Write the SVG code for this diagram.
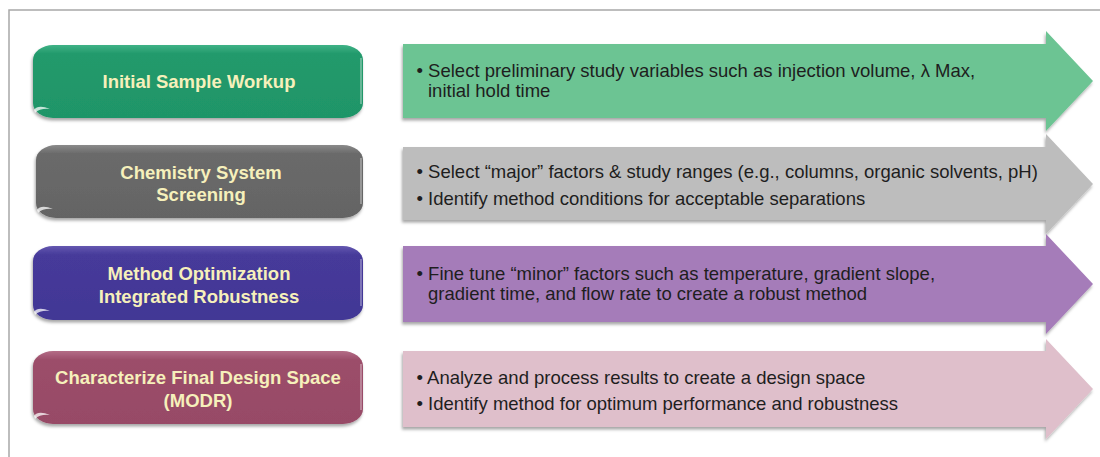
<svg xmlns="http://www.w3.org/2000/svg" width="1100" height="457" viewBox="0 0 1100 457">
  <style>
    .pill-text { font-family: "Liberation Sans", Arial, sans-serif; font-weight: bold; font-size: 18.5px; fill: #f6f0bb; text-anchor: middle; }
    .arrow-text { font-family: "Liberation Sans", Arial, sans-serif; font-size: 18.5px; fill: #1e1e1e; }
    .frame { fill: none; stroke: #a8a8a8; stroke-width: 1.5; }
    .gloss { fill: #ffffff; opacity: 0.75; }
    .rim { fill: none; stroke: #ffffff; stroke-width: 1.4; opacity: 0.45; }
  </style>
  <defs>
    <filter id="shadow" x="-5%" y="-10%" width="110%" height="130%">
      <feDropShadow dx="-1" dy="2.5" stdDeviation="1.6" flood-color="#000" flood-opacity="0.35"/>
    </filter>
    <linearGradient id="gGreen" x1="0" y1="0" x2="0" y2="1">
      <stop offset="0" stop-color="#3fb286"/>
      <stop offset="0.12" stop-color="#229a6c"/>
      <stop offset="1" stop-color="#1f9568"/>
    </linearGradient>
    <linearGradient id="gGray" x1="0" y1="0" x2="0" y2="1">
      <stop offset="0" stop-color="#8a8a8a"/>
      <stop offset="0.12" stop-color="#6a6a6a"/>
      <stop offset="1" stop-color="#646464"/>
    </linearGradient>
    <linearGradient id="gPurple" x1="0" y1="0" x2="0" y2="1">
      <stop offset="0" stop-color="#6458b0"/>
      <stop offset="0.12" stop-color="#463a9a"/>
      <stop offset="1" stop-color="#423795"/>
    </linearGradient>
    <linearGradient id="gMaroon" x1="0" y1="0" x2="0" y2="1">
      <stop offset="0" stop-color="#b36c86"/>
      <stop offset="0.12" stop-color="#9c4e6a"/>
      <stop offset="1" stop-color="#974a66"/>
    </linearGradient>
  </defs>

  <rect width="1100" height="457" fill="#ffffff"/>
  <path class="frame" d="M9,457 V10 H1100"/>

  <!-- Left step pills -->
  <g id="pill-initial-sample-workup">
    <rect x="33" y="45" width="330" height="73" rx="20" ry="15" fill="url(#gGreen)" filter="url(#shadow)"/>
    <path class="gloss" d="M34,110 Q38,104 50,109 Q40,108 35,113 Z"/>
    <path class="rim" d="M361,58 V104"/>
    <text class="pill-text" x="199" y="88">Initial Sample Workup</text>
  </g>
  <g id="pill-chemistry-system-screening">
    <rect x="36" y="145" width="327" height="73" rx="20" ry="15" fill="url(#gGray)" filter="url(#shadow)"/>
    <path class="gloss" d="M37,210 Q41,204 53,209 Q43,208 38,213 Z"/>
    <path class="rim" d="M361,158 V204"/>
    <text class="pill-text" x="201" y="179">Chemistry System</text>
    <text class="pill-text" x="201" y="201">Screening</text>
  </g>
  <g id="pill-method-optimization">
    <rect x="33" y="246" width="330" height="74" rx="20" ry="15" fill="url(#gPurple)" filter="url(#shadow)"/>
    <path class="gloss" d="M34,312 Q38,306 50,311 Q40,310 35,315 Z"/>
    <path class="rim" d="M361,259 V306"/>
    <text class="pill-text" x="199" y="280">Method Optimization</text>
    <text class="pill-text" x="199" y="303">Integrated Robustness</text>
  </g>
  <g id="pill-characterize-design-space">
    <rect x="33" y="351" width="330" height="73" rx="20" ry="15" fill="url(#gMaroon)" filter="url(#shadow)"/>
    <path class="gloss" d="M34,416 Q38,410 50,415 Q40,414 35,419 Z"/>
    <path class="rim" d="M361,364 V410"/>
    <text class="pill-text" x="198" y="384">Characterize Final Design Space</text>
    <text class="pill-text" x="198" y="407">(MODR)</text>
  </g>

  <!-- Right description arrows -->
  <g id="arrow-initial-sample-workup">
    <path d="M403,44 H1046 V31 L1093,81 L1046,131 V118 H403 Z" fill="#6cc493" filter="url(#shadow)"/>
    <text class="arrow-text" x="416.5" y="77">• Select preliminary study variables such as injection volume, λ Max,</text>
    <text class="arrow-text" x="428" y="97">initial hold time</text>
  </g>
  <g id="arrow-chemistry-system-screening">
    <path d="M403,147 H1046 V134 L1093,184 L1046,234 V220 H403 Z" fill="#bdbdbd" filter="url(#shadow)"/>
    <text class="arrow-text" x="416.5" y="178">• Select “major” factors &amp; study ranges (e.g., columns, organic solvents, pH)</text>
    <text class="arrow-text" x="416.5" y="205">• Identify method conditions for acceptable separations</text>
  </g>
  <g id="arrow-method-optimization">
    <path d="M403,246 H1046 V234 L1093,284 L1046,334 V322 H403 Z" fill="#a57cb9" filter="url(#shadow)"/>
    <text class="arrow-text" x="416.5" y="280">• Fine tune “minor” factors such as temperature, gradient slope,</text>
    <text class="arrow-text" x="428" y="300">gradient time, and flow rate to create a robust method</text>
  </g>
  <g id="arrow-characterize-design-space">
    <path d="M403,351 H1046 V339 L1093,389 L1046,439 V427 H403 Z" fill="#dfbfcb" filter="url(#shadow)"/>
    <text class="arrow-text" x="416.5" y="384">• Analyze and process results to create a design space</text>
    <text class="arrow-text" x="416.5" y="410">• Identify method for optimum performance and robustness</text>
  </g>

  <g id="connectors"/>
</svg>
